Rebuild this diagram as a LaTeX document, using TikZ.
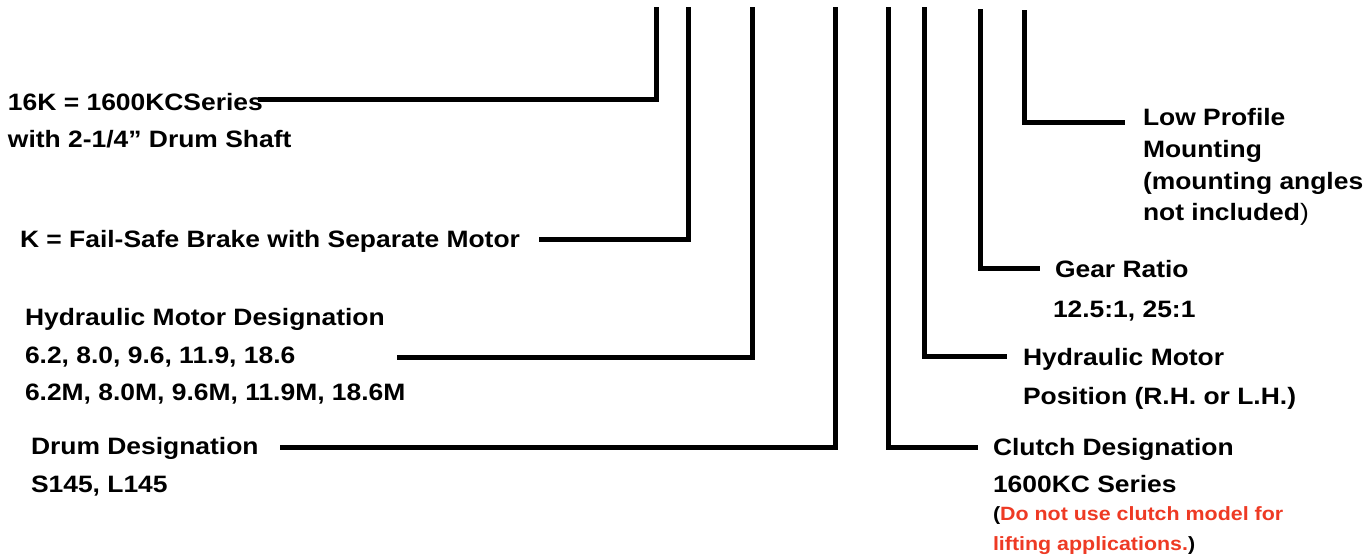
\documentclass[tikz,border=0pt]{standalone}
\usepackage{fontspec}
\newfontfamily\labfont[FakeStretch=1.115]{Liberation Sans}
\definecolor{warnred}{RGB}{238,58,36}
\tikzset{
  conn/.style={line width=5pt, line join=miter, line cap=butt, black},
  lab/.style={anchor=base west, inner sep=0pt, outer sep=0pt, font=\labfont\bfseries\fontsize{23.7}{28}\selectfont},
  note/.style={anchor=base west, inner sep=0pt, outer sep=0pt, font=\labfont\bfseries\fontsize{19.2}{24}\selectfont}
}
\begin{document}
\begin{tikzpicture}[x=1pt,y=-1pt]
\useasboundingbox (0,0) rectangle (1366,557);
\fill[white] (0,0) rectangle (1366,557);
% left labels
\node[lab] (s1a) at (8,110) {16K = 1600KCSeries};
\node[lab] (s1b) at (8,147) {with 2-1/4” Drum Shaft};
\node[lab] (s2) at (20,247) {K = Fail-Safe Brake with Separate Motor};
\node[lab] (s3a) at (25,325) {Hydraulic Motor Designation};
\node[lab] (s3b) at (25,363) {6.2, 8.0, 9.6, 11.9, 18.6};
\node[lab] (s3c) at (25,400) {6.2M, 8.0M, 9.6M, 11.9M, 18.6M};
\node[lab] (s4a) at (31,454) {Drum Designation};
\node[lab] (s4b) at (31,492) {S145, L145};
% right labels
\node[lab] (s8a) at (1143,125) {Low Profile};
\node[lab] (s8b) at (1143,157) {Mounting};
\node[lab] (s8c) at (1143,189) {(mounting angles};
\node[lab] (s8d) at (1143,220) {not included{\mdseries)}};
\node[lab] (s7a) at (1055,277) {Gear Ratio};
\node[lab] (s7b) at (1053,317) {12.5:1, 25:1};
\node[lab] (s6a) at (1023,365) {Hydraulic Motor};
\node[lab] (s6b) at (1023,404) {Position (R.H. or L.H.)};
\node[lab] (s5a) at (993,455) {Clutch Designation};
\node[lab] (s5b) at (993,492) {1600KC Series};
\node[note] (s5c) at (993,520) {(\textcolor{warnred}{Do not use clutch model for}};
\node[note] (s5d) at (993,550) {\textcolor{warnred}{lifting applications.})};
% connector ends
\coordinate (t1) at (656,7);   \coordinate (e1) at (258,99);
\coordinate (t2) at (688,7);   \coordinate (e2) at (539,239);
\coordinate (t3) at (752,7);   \coordinate (e3) at (397,357);
\coordinate (t4) at (835,7);   \coordinate (e4) at (280,447);
\coordinate (t5) at (888,7);   \coordinate (e5) at (978,447);
\coordinate (t6) at (924,7);   \coordinate (e6) at (1007,356);
\coordinate (t7) at (980,9);   \coordinate (e7) at (1040,268);
\coordinate (t8) at (1024,10); \coordinate (e8) at (1125,122);
\draw[conn] (t1) |- (e1);
\draw[conn] (t2) |- (e2);
\draw[conn] (t3) |- (e3);
\draw[conn] (t4) |- (e4);
\draw[conn] (t5) |- (e5);
\draw[conn] (t6) |- (e6);
\draw[conn] (t7) |- (e7);
\draw[conn] (t8) |- (e8);
\end{tikzpicture}
\end{document}
